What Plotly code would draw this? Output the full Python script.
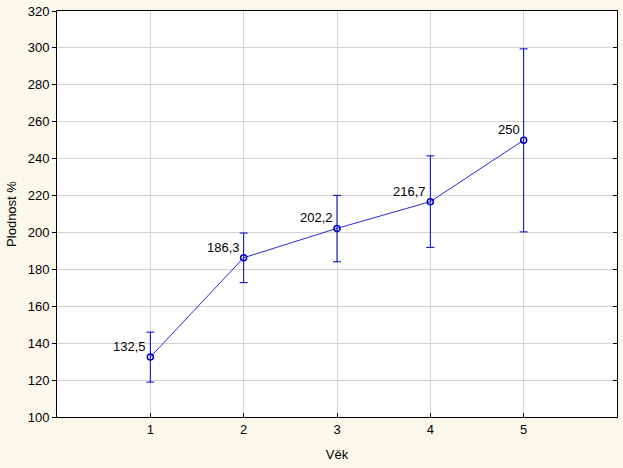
import plotly.graph_objects as go

ages = [1, 2, 3, 4, 5]
means = [132.5, 186.3, 202.2, 216.7, 250.0]
err_hi = [13.5, 13.4, 17.9, 24.8, 49.5]
err_lo = [13.6, 13.5, 18.1, 24.8, 49.7]
labels = ["132,5", "186,3", "202,2", "216,7", "250"]

blue_line = "#2B2BD8"
blue_dark = "#0000C0"

font = dict(family="Liberation Sans, Arial", size=13, color="black")

fig = go.Figure()
fig.add_trace(go.Scatter(
    x=ages, y=means,
    mode="lines+markers",
    line=dict(color=blue_line, width=1),
    marker=dict(symbol="circle-open", size=6, color=blue_dark, line=dict(width=1.5, color=blue_dark)),
    error_y=dict(type="data", symmetric=False, array=err_hi, arrayminus=err_lo,
                 color=blue_dark, thickness=1, width=4),
    showlegend=False,
    cliponaxis=False,
))
for xa, ya, lab in zip(ages, means, labels):
    fig.add_annotation(x=xa, y=ya, text=lab, showarrow=False,
                       xanchor="right", yanchor="bottom", xshift=-2, yshift=1,
                       font=font)

fig.add_trace(go.Scatter(x=[None], y=[None], yaxis="y2", showlegend=False, hoverinfo="skip"))

fig.update_layout(
    width=623, height=468,
    margin=dict(l=57, r=6, t=11, b=51),
    paper_bgcolor="#FDF8EC",
    plot_bgcolor="white",
    font=font,
    xaxis=dict(range=[0, 6], tickvals=ages, ticktext=[str(a) for a in ages],
               showgrid=True, gridcolor="#D4D4D4", gridwidth=1,
               showline=True, linecolor="black", linewidth=1, mirror=True,
               ticks="inside", ticklen=4, tickcolor="black",
               zeroline=False, automargin=False,
               title=dict(text="Věk", standoff=14, font=font),
               tickfont=font),
    yaxis=dict(range=[100, 320], dtick=20,
               showgrid=True, gridcolor="#D4D4D4", gridwidth=1,
               showline=True, linecolor="black", linewidth=1, mirror=True,
               ticks="outside", ticklen=4, tickcolor="black",
               zeroline=False, automargin=False,
               title=dict(text="Plodnost %", standoff=8, font=font),
               tickfont=font),
    yaxis2=dict(range=[100, 320], dtick=20, overlaying="y", side="right",
                showgrid=False, showticklabels=False, ticks="inside", ticklen=4,
                tickcolor="black", zeroline=False, showline=False, automargin=False),
)
fig.write_html("out.html", config={"displayModeBar": False},
               post_script="document.body.style.margin='0';")
